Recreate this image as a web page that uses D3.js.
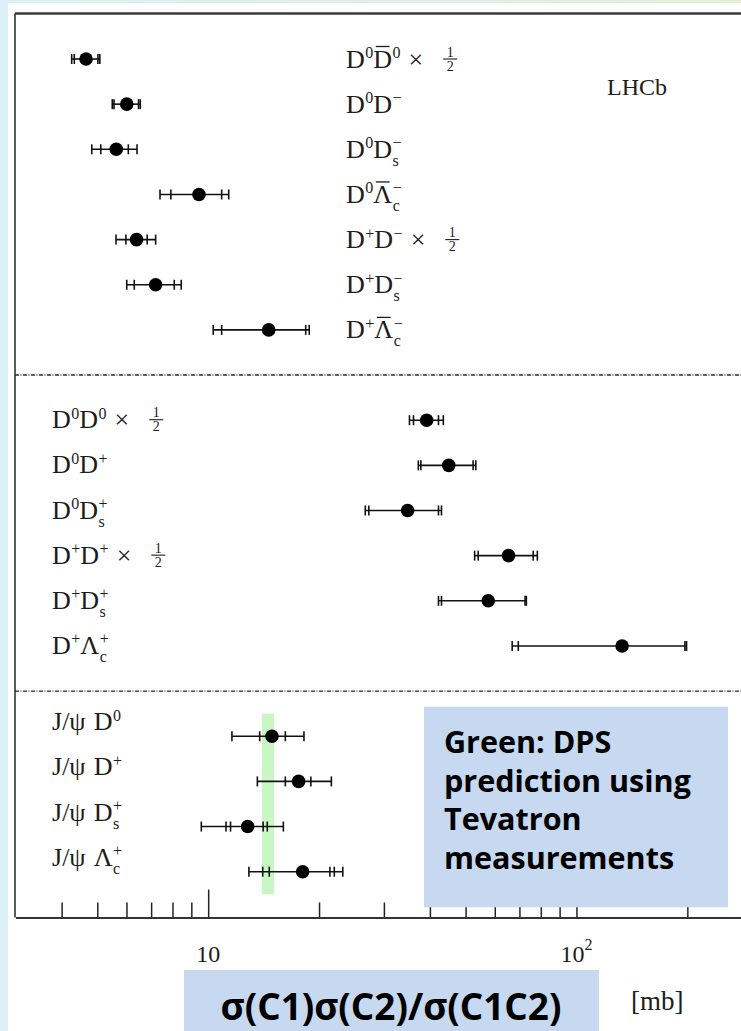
<!DOCTYPE html>
<html>
<head>
<meta charset="utf-8">
<script src="https://cdn.jsdelivr.net/npm/d3@7"></script>
<style>
  html, body { margin: 0; padding: 0; background: #fff; }
  svg { display: block; }
  .lbl { font-family: "Liberation Serif", "DejaVu Serif", serif; font-size: 26px; fill: #1c1c1c; }
  .scr { font-size: 16px; }
  .frac { font-family: "Liberation Serif", "DejaVu Serif", serif; font-size: 14px; fill: #1c1c1c; }
  .note { font-family: "Open Sans", Lato, sans-serif; font-weight: 700; fill: #000; }
</style>
</head>
<body>
<script>
// ---------------- data ----------------
const topLabels    = ["D^{0}~D^{0} ×½", "D^{0}D^{−}", "D^{0}D_{s}^{−}", "D^{0}~Λ_{c}^{−}", "D^{+}D^{−} ×½", "D^{+}D_{s}^{−}", "D^{+}~Λ_{c}^{−}"];
const middleLabels = ["D^{0}D^{0} ×½", "D^{0}D^{+}", "D^{0}D_{s}^{+}", "D^{+}D^{+} ×½", "D^{+}D_{s}^{+}", "D^{+}Λ_{c}^{+}"];
const bottomLabels = ["J/ψ D^{0}", "J/ψ D^{+}", "J/ψ D_{s}^{+}", "J/ψ Λ_{c}^{+}"];

// central values and error-bar ends (mb), top → middle → bottom
const centralValue = [4.66, 6.01, 5.63, 9.44, 6.39, 7.20, 14.6,   39.2, 45.0, 34.8, 65.4, 57.6, 133,   14.9, 17.6, 12.8, 18.05];
const statLo       = [4.33, 5.55, 5.11, 7.92, 5.98, 6.30, 10.88,  36.1, 37.8, 27.3, 54.1, 43.0, 69.5,  13.8, 16.2, 11.5, 14.65];
const statHi       = [5.02, 6.47, 6.07, 10.88, 6.83, 8.09, 18.40, 42.2, 52.4, 42.2, 76.3, 72.5, 197,   16.2, 19.0, 14.1, 21.4];
const extraLo      = [null, null, null, null, null, null, null,   null, null, null, null, null, null,  null, null, 11.18, 14.06];
const extraHi      = [null, null, null, null, null, null, null,   null, null, null, null, null, null,  null, null, 14.47, 22.0];
const totalLo      = [4.26, 5.49, 4.83, 7.40, 5.62, 6.01, 10.32,  35.2, 37.2, 26.7, 52.9, 42.2, 66.9,  11.6, 13.6, 9.58, 12.9];
const totalHi      = [5.08, 6.54, 6.41, 11.37, 7.20, 8.45, 18.81, 43.5, 53.3, 43.0, 78.3, 73.1, 199,   18.2, 21.6, 16.0, 23.2];

const dpsBand = [14.0, 15.1];           // green DPS prediction band (mb)
const majorTicks = [10, 100];
const majorTickLabels = ["10", "10^2"];
const minorTicks = [4, 5, 6, 7, 8, 9, 20, 30, 40, 50, 60, 70, 80, 90, 200];
const experimentLabel = "LHCb";
const unitLabel = "[mb]";
const axisTitle = "σ(C1)σ(C2)/σ(C1C2)";
const noteLines = ["Green: DPS", "prediction using", "Tevatron", "measurements"];

// ---------------- layout ----------------
const W = 741, H = 1031;
const svg = d3.select("body").append("svg").attr("width", W).attr("height", H);

const defs = svg.append("defs");
const grad = defs.append("linearGradient").attr("id", "bg").attr("x1", 0).attr("x2", 1).attr("y1", 0).attr("y2", 0);
grad.append("stop").attr("offset", "0%").attr("stop-color", "#dcf0f6");
grad.append("stop").attr("offset", "100%").attr("stop-color", "#e2efd6");
svg.append("rect").attr("width", W).attr("height", H).attr("fill", "url(#bg)");
svg.append("rect").attr("x", 8).attr("y", 3).attr("width", W - 8).attr("height", H - 3).attr("fill", "#fff");

const x = d3.scaleLog().domain([3, 300]).range([15.6, 752.2]);

// slot index: sections separated by one empty slot
const slots = [];
topLabels.forEach((d, i) => slots.push(i));
middleLabels.forEach((d, i) => slots.push(topLabels.length + 1 + i));
bottomLabels.forEach((d, i) => slots.push(topLabels.length + middleLabels.length + 2 + i));
const nSlots = topLabels.length + middleLabels.length + bottomLabels.length + 2;
const y = d3.scaleLinear().domain([0, nSlots - 1]).range([59, 871.7]);

const axisY = 917.5, frameTop = 13.5, frameLeft = 15;

// green band
const bandTop = y(topLabels.length + middleLabels.length + 1.5), bandBot = y(nSlots - 0.5);
svg.append("rect")
  .attr("x", x(dpsBand[0])).attr("width", x(dpsBand[1]) - x(dpsBand[0]))
  .attr("y", bandTop).attr("height", bandBot - bandTop)
  .attr("fill", "#c8f7c4");

// frame
svg.append("line").attr("x1", frameLeft).attr("x2", W).attr("y1", frameTop).attr("y2", frameTop)
  .attr("stroke", "#3a3a3a").attr("stroke-width", 2.5);
svg.append("line").attr("x1", frameLeft).attr("x2", frameLeft).attr("y1", frameTop).attr("y2", axisY)
  .attr("stroke", "#333").attr("stroke-width", 1.6);

// section separators
[topLabels.length, topLabels.length + middleLabels.length + 1].forEach(s => {
  svg.append("line").attr("x1", frameLeft).attr("x2", W).attr("y1", y(s)).attr("y2", y(s))
    .attr("stroke", "#2a2a2a").attr("stroke-width", 1.4).attr("stroke-dasharray", "4,1.5,1,1.5");
});

// axis (ticks pointing inward)
const gMinor = svg.append("g").attr("transform", `translate(0,${axisY})`)
  .call(d3.axisTop(x).tickValues(minorTicks).tickSize(15).tickSizeOuter(0).tickFormat(""));
const gMajor = svg.append("g").attr("transform", `translate(0,${axisY})`)
  .call(d3.axisTop(x).tickValues(majorTicks).tickSize(28).tickSizeOuter(0).tickFormat(""));
[gMinor, gMajor].forEach(g => {
  g.selectAll(".tick line").attr("stroke", "#222").attr("stroke-width", 1.5);
  g.select(".domain").attr("stroke", "#333").attr("stroke-width", 2.2);
});

// tick labels
majorTicks.forEach((v, i) => {
  const parts = majorTickLabels[i].split("^");
  const t = svg.append("text").attr("class", "lbl").style("font-size", "24px")
    .attr("x", x(v)).attr("y", 962).attr("text-anchor", "middle");
  t.append("tspan").text(parts[0]);
  if (parts[1]) t.append("tspan").attr("dy", -12).style("font-size", "16px").text(parts[1]);
});

// error bars and points
const capH = 5;
const gPts = svg.append("g");
centralValue.forEach((v, i) => {
  const yy = y(slots[i]);
  gPts.append("line").attr("x1", x(totalLo[i])).attr("x2", x(totalHi[i])).attr("y1", yy).attr("y2", yy)
    .attr("stroke", "#111").attr("stroke-width", 1.6);
  const caps = [totalLo[i], totalHi[i], statLo[i], statHi[i], extraLo[i], extraHi[i]].filter(c => c != null);
  caps.forEach(c => {
    gPts.append("line").attr("x1", x(c)).attr("x2", x(c)).attr("y1", yy - capH).attr("y2", yy + capH)
      .attr("stroke", "#111").attr("stroke-width", 1.6);
  });
  gPts.append("circle").attr("cx", x(v)).attr("cy", yy).attr("r", 6.8).attr("fill", "#000");
});

// ---------------- labels with sub/superscripts (one text element per label) ----------------
const SUP = -9.5, SUB = 8, SPACE = 8, FRAC_PAD = 20, FRAC_W = 14;
function measure(str, cls) {
  const t = svg.append("text").attr("class", "lbl " + cls).text(str);
  const w = t.node().getComputedTextLength();
  t.remove();
  return w;
}
function drawLabel(str, x0, y0) {
  const g = svg.append("g");
  const t = g.append("text").attr("class", "lbl").attr("x", x0).attr("y", y0);
  let i = 0, shift = 0, pendingDx = 0, charIdx = 0, frac = false;
  const bars = [];
  while (i < str.length) {
    let c = str[i];
    if (c === " ") { pendingDx += SPACE; i++; continue; }
    if (c === "½") { frac = true; i++; continue; }
    let bar = false;
    if (c === "~") { bar = true; i++; c = str[i]; }
    t.append("tspan").attr("dx", pendingDx).attr("dy", -shift).text(c);
    shift = 0; pendingDx = 0;
    if (bar) bars.push(charIdx);
    charIdx += 1; i++;
    let sup = null, sub = null;
    while (str[i] === "^" || str[i] === "_") {
      const kind = str[i]; i++;
      let content;
      if (str[i] === "{") { const j = str.indexOf("}", i); content = str.slice(i + 1, j); i = j + 1; }
      else { content = str[i]; i++; }
      if (kind === "^") sup = content; else sub = content;
    }
    if (sup) {
      t.append("tspan").attr("class", "scr").attr("dx", 0.5).attr("dy", SUP).text(sup);
      shift = SUP; charIdx += sup.length;
    }
    if (sub) {
      const back = sup ? -measure(sup, "scr") : 0.5;
      t.append("tspan").attr("class", "scr").attr("dx", back).attr("dy", SUB - shift).text(sub);
      shift = SUB; charIdx += sub.length;
      if (sup) pendingDx = Math.max(0, measure(sup, "scr") - measure(sub, "scr"));
    }
  }
  const node = t.node();
  bars.forEach(k => {
    const e = node.getExtentOfChar(k);
    g.append("line").attr("x1", e.x + 2.5).attr("x2", e.x + e.width - 2.5)
      .attr("y1", y0 - 21).attr("y2", y0 - 21).attr("stroke", "#1c1c1c").attr("stroke-width", 1.3);
  });
  if (frac) {
    const bb = node.getBBox();
    const fx = bb.x + bb.width + pendingDx + FRAC_PAD;
    const by = y0 - 8.5;
    g.append("line").attr("x1", fx).attr("x2", fx + FRAC_W).attr("y1", by).attr("y2", by)
      .attr("stroke", "#1c1c1c").attr("stroke-width", 1.1);
    const ft = g.append("text").attr("class", "frac").attr("x", fx + FRAC_W / 2).attr("y", by - 2.5).attr("text-anchor", "middle");
    ft.append("tspan").text("1");
    ft.append("tspan").attr("x", fx + FRAC_W / 2).attr("dy", 14).text("2");
  }
}

topLabels.forEach((l, i) => drawLabel(l, 346, y(slots[i]) + 8.5));
middleLabels.forEach((l, i) => drawLabel(l, 52, y(slots[topLabels.length + i]) + 8));
bottomLabels.forEach((l, i) => drawLabel(l, 52, y(slots[topLabels.length + middleLabels.length + i]) - 6));

svg.append("text").attr("class", "lbl").attr("x", 607).attr("y", 95).style("font-size", "24px").text(experimentLabel);
svg.append("text").attr("class", "lbl").attr("x", 631).attr("y", 1010).style("font-size", "27px").text(unitLabel);

// fit a bold note font so that a line has the reference width
function fitSize(str, target) {
  const t = svg.append("text").attr("class", "note").style("font-size", "30px").text(str);
  const w = t.node().getComputedTextLength();
  t.remove();
  return 30 * target / w;
}

// note box
svg.append("rect").attr("x", 424).attr("y", 706.7).attr("width", 304).attr("height", 200.6).attr("fill", "#c6d9f0");
const noteSize = fitSize(noteLines[1], 247);
noteLines.forEach((l, i) => {
  svg.append("text").attr("class", "note").attr("x", 444).attr("y", 753 + i * 38.5).style("font-size", noteSize + "px").text(l);
});

// axis title box
svg.append("rect").attr("x", 184).attr("y", 970).attr("width", 415).attr("height", 61).attr("fill", "#c6d9f0");
const titleSize = fitSize(axisTitle, 341);
svg.append("text").attr("class", "note").attr("x", 391).attr("y", 1020).attr("text-anchor", "middle")
  .style("font-size", titleSize + "px").text(axisTitle);
</script>
</body>
</html>
